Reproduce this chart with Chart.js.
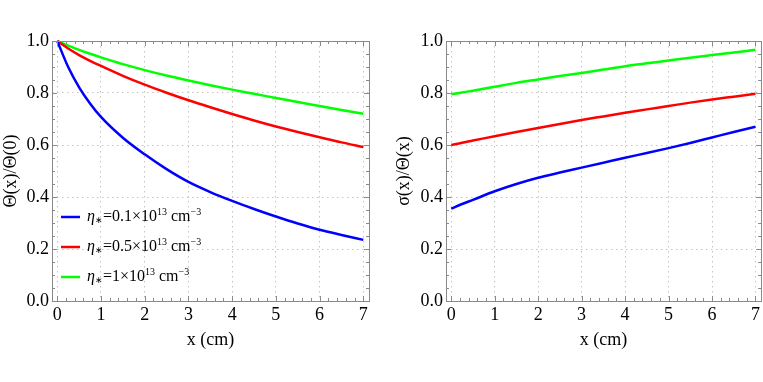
<!DOCTYPE html>
<html>
<head>
<meta charset="UTF-8">
<script src="https://cdn.jsdelivr.net/npm/chart.js"></script>
<style>
    body { margin: 0; background: #fff; }
    #wrap { position: relative; width: 763px; height: 382px; }
    canvas { position: absolute; top: 0; }
</style>
</head>
<body>
<div id="wrap">
    <canvas id="left" width="381" height="382" style="left:0;width:381px;height:382px"></canvas>
    <canvas id="right" width="382" height="382" style="left:381px;width:382px;height:382px"></canvas>
</div>
<script>
// data
const xTicks = [0, 1, 2, 3, 4, 5, 6, 7];
const yTicks = [0, 0.2, 0.4, 0.6, 0.8, 1.0];

// left panel: Theta(x)/Theta(0)
const xLeft = [0, 0.25, 0.5, 0.75, 1, 1.5, 2, 2.5, 3, 3.5, 4, 4.5, 5, 5.5, 6, 6.5, 7];
const thetaBlue  = [1, 0.900, 0.822, 0.760, 0.708, 0.628, 0.564, 0.507, 0.458, 0.419, 0.385, 0.354, 0.325, 0.298, 0.274, 0.254, 0.235];
const thetaRed   = [1, 0.971, 0.946, 0.924, 0.904, 0.866, 0.832, 0.801, 0.772, 0.745, 0.719, 0.694, 0.671, 0.650, 0.630, 0.610, 0.592];
const thetaGreen = [1, 0.982, 0.966, 0.951, 0.937, 0.911, 0.888, 0.867, 0.848, 0.830, 0.813, 0.797, 0.781, 0.765, 0.750, 0.735, 0.720];

// right panel: sigma(x)/Theta(x)
const xRight = [0, 0.25, 0.5, 1, 1.5, 2, 2.5, 3, 3.5, 4, 4.5, 5, 5.5, 6, 6.5, 7];
const sigmaBlue  = [0.355, 0.373, 0.389, 0.422, 0.450, 0.474, 0.494, 0.513, 0.532, 0.551, 0.569, 0.588, 0.608, 0.629, 0.650, 0.670];
const sigmaRed   = [0.600, 0.609, 0.617, 0.634, 0.650, 0.665, 0.681, 0.696, 0.710, 0.724, 0.737, 0.750, 0.763, 0.775, 0.786, 0.797];
const sigmaGreen = [0.795, 0.802, 0.809, 0.824, 0.839, 0.852, 0.865, 0.877, 0.890, 0.903, 0.914, 0.925, 0.936, 0.946, 0.956, 0.966];

const etaValues = ['0.1', '0.5', '1'];
const colors = ['#0000ff', '#ff0000', '#00ff00'];

const FONT = 'Liberation Serif';

function pts(xs, ys) {
    return xs.map((x, i) => ({x: x, y: ys[i]}));
}

function ds(xs, ys, c) {
    return {
        data: pts(xs, ys),
        borderColor: c,
        borderWidth: 2.5,
        pointRadius: 0,
        fill: false,
        cubicInterpolationMode: 'monotone',
        clip: false
    };
}

// frame with inward ticks on all four sides
const framePlugin = {
    id: 'frame',
    afterDraw(chart) {
        const ctx = chart.ctx;
        const a = chart.chartArea;
        const sx = chart.scales.x, sy = chart.scales.y;
        ctx.save();
        ctx.strokeStyle = '#8a8a8a';
        ctx.lineWidth = 1;
        ctx.strokeRect(Math.round(a.left) + 0.5, Math.round(a.top) + 0.5,
            Math.round(a.right - a.left), Math.round(a.bottom - a.top));
        ctx.beginPath();
        for (let i = 0; i <= 35; i++) {
            const v = i * 0.2;
            const px = Math.round(sx.getPixelForValue(v)) + 0.5;
            const len = (i % 5 === 0) ? 5 : 3;
            ctx.moveTo(px, a.bottom); ctx.lineTo(px, a.bottom - len);
            ctx.moveTo(px, a.top); ctx.lineTo(px, a.top + len);
        }
        for (let i = 0; i <= 20; i++) {
            const v = i * 0.05;
            const py = Math.round(sy.getPixelForValue(v)) + 0.5;
            const len = (i % 4 === 0) ? 5 : 3;
            ctx.moveTo(a.left, py); ctx.lineTo(a.left + len, py);
            ctx.moveTo(a.right, py); ctx.lineTo(a.right - len, py);
        }
        ctx.stroke();
        ctx.restore();
    }
};

function drawRich(ctx, x, y, parts) {
    parts.forEach(p => {
        ctx.font = p.f;
        ctx.fillText(p.t, x, y + (p.dy || 0));
        x += ctx.measureText(p.t).width;
    });
}

const legendPlugin = {
    id: 'etaLegend',
    afterDraw(chart) {
        const ctx = chart.ctx;
        const rowsY = [217, 247, 277];
        ctx.save();
        ctx.textBaseline = 'middle';
        ctx.fillStyle = '#000';
        etaValues.forEach((v, i) => {
            const y = rowsY[i];
            ctx.strokeStyle = colors[i];
            ctx.lineWidth = 2.5;
            ctx.beginPath();
            ctx.moveTo(61, y); ctx.lineTo(80, y);
            ctx.stroke();
            drawRich(ctx, 87, y, [
                {t: 'η', f: 'italic 16px ' + FONT},
                {t: '∗', f: '9px ' + FONT, dy: 4},
                {t: '=' + v + '×10', f: '16px ' + FONT},
                {t: '13', f: '10px ' + FONT, dy: -5},
                {t: ' cm', f: '16px ' + FONT},
                {t: '−3', f: '10px ' + FONT, dy: -5}
            ]);
        });
        ctx.restore();
    }
};

function makeChart(id, datasets, yTitle, yWidth, yTitlePad, padRight, plugins) {
    return new Chart(document.getElementById(id), {
        type: 'line',
        data: {datasets: datasets},
        plugins: plugins,
        options: {
            responsive: false,
            animation: false,
            devicePixelRatio: 1,
            layout: {padding: {top: 41, right: padRight, bottom: 0, left: 0}},
            plugins: {legend: {display: false}, tooltip: {enabled: false}},
            scales: {
                x: {
                    type: 'linear',
                    min: -0.12,
                    max: 7.13,
                    afterBuildTicks: s => { s.ticks = xTicks.map(v => ({value: v})); },
                    afterFit: s => { s.height = 81; },
                    grid: {color: '#c4c4c4', drawTicks: false},
                    border: {display: false, dash: [1.5, 3.5]},
                    ticks: {
                        padding: 3,
                        color: '#000',
                        font: {family: FONT, size: 18},
                        maxRotation: 0,
                        callback: v => String(v)
                    },
                    title: {
                        display: true,
                        text: 'x (cm)',
                        color: '#000',
                        font: {family: FONT, size: 18},
                        padding: {top: 0, bottom: 31}
                    }
                },
                y: {
                    type: 'linear',
                    min: 0,
                    max: 1,
                    afterBuildTicks: s => { s.ticks = yTicks.map(v => ({value: v})); },
                    afterFit: s => { s.width = yWidth; },
                    grid: {color: '#c4c4c4', drawTicks: false},
                    border: {display: false, dash: [1.5, 3.5]},
                    ticks: {
                        padding: 3,
                        color: '#000',
                        font: {family: FONT, size: 18},
                        callback: v => v.toFixed(1)
                    },
                    title: {
                        display: true,
                        text: yTitle,
                        color: '#000',
                        font: {family: FONT, size: 18},
                        padding: {top: yTitlePad, bottom: 0}
                    }
                }
            }
        }
    });
}

makeChart('left', [
    ds(xLeft, thetaBlue, colors[0]),
    ds(xLeft, thetaRed, colors[1]),
    ds(xLeft, thetaGreen, colors[2])
], 'Θ(x)/Θ(0)', 52, 0, 12, [framePlugin, legendPlugin]);

makeChart('right', [
    ds(xRight, sigmaBlue, colors[0]),
    ds(xRight, sigmaRed, colors[1]),
    ds(xRight, sigmaGreen, colors[2])
], 'σ(x)/Θ(x)', 65, 12, 1, [framePlugin]);
</script>
</body>
</html>
